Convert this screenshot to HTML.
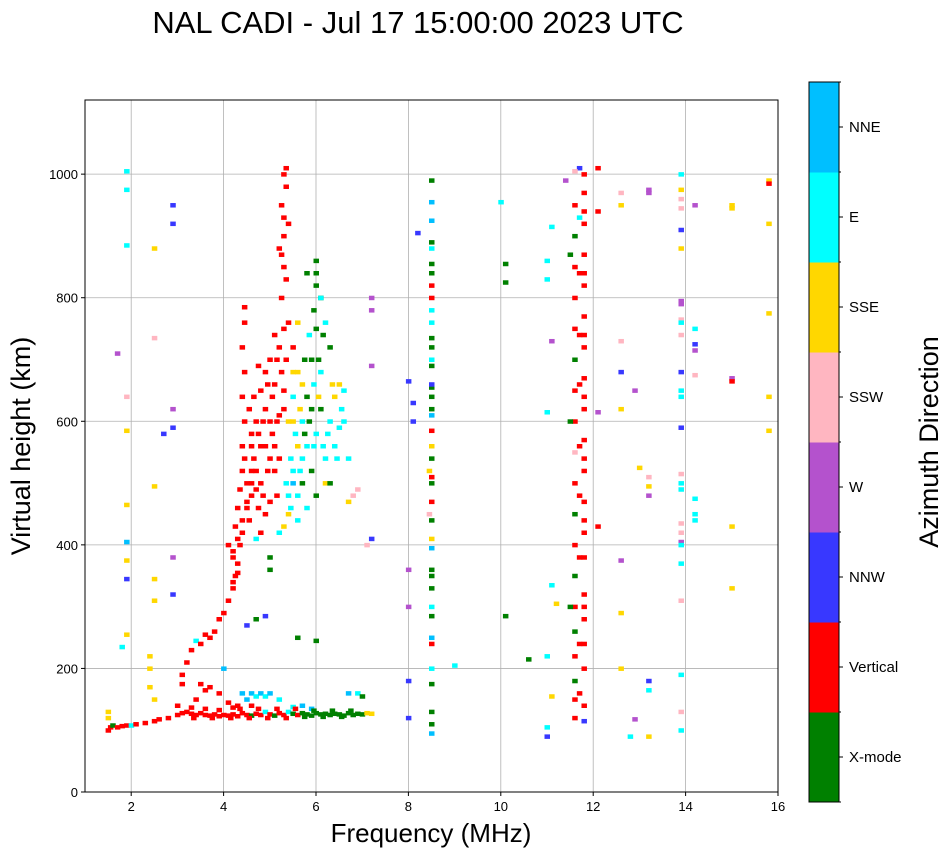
<!DOCTYPE html>
<html><head><meta charset="utf-8">
<style>
body{margin:0;background:#fff;}
svg{display:block;font-family:"Liberation Sans","DejaVu Sans",sans-serif;}
</style></head>
<body>
<svg id="chart" width="951" height="856">
<text x="418" y="33" text-anchor="middle" font-size="31">NAL CADI - Jul 17 15:00:00 2023 UTC</text>
<g id="grid"></g>
<g id="marks"></g>
<rect x="85" y="100" width="693" height="692" fill="none" stroke="#000" stroke-width="1"/>
<g id="axes"></g>
<text x="431" y="842" text-anchor="middle" font-size="26">Frequency (MHz)</text>
<text transform="translate(30,446) rotate(-90)" text-anchor="middle" font-size="27">Virtual height (km)</text>
<g id="cbar"></g>
<text transform="translate(938,442) rotate(-90)" text-anchor="middle" font-size="27">Azimuth Direction</text>
</svg>
<script>
const xTicks=[2,4,6,8,10,12,14,16];
const yTicks=[0,200,400,600,800,1000];
const dirLabels=["X-mode","Vertical","NNW","W","SSW","SSE","E","NNE"];
const dirColors=["#008000","#ff0000","#3838ff","#b452cd","#ffb6c1","#ffd700","#00ffff","#00bfff"];
const lowTrace=[[1.5,100,1],[1.55,105,1],[1.6,108,0],[1.7,105,1],[1.8,107,1],[1.9,108,1],[2.0,108,6],[2.1,110,1],[2.3,112,1],[2.5,115,1],[2.6,118,1],[2.8,120,1],[3.0,125,1],[3.1,128,1],[3.2,130,1],[3.3,127,1],[3.4,125,1],[3.5,128,1],[3.6,125,1],[3.7,124,1],[3.8,126,1],[3.9,123,1],[4.0,125,1],[4.1,124,1],[4.2,126,1],[4.3,123,1],[4.4,128,1],[4.5,125,1],[4.6,124,0],[4.7,127,1],[4.8,125,1],[4.9,130,6],[5.0,126,1],[5.1,124,0],[5.2,128,1],[5.3,125,1],[5.4,130,6],[5.5,127,0],[5.6,125,1],[5.7,128,0],[5.8,126,0],[5.9,124,0],[6.0,128,0],[6.1,126,0],[6.2,127,0],[6.3,125,0],[6.4,127,0],[6.5,126,0],[6.6,124,0],[6.7,128,0],[6.8,125,0],[6.9,127,0],[7.0,126,0],[7.1,128,5],[7.2,127,5],
[3.3,137,1],[3.6,135,1],[3.9,133,1],[4.2,137,1],[4.4,160,7],[4.5,150,7],[4.6,160,7],[4.7,155,6],[4.8,160,7],[4.9,155,6],[5.0,160,7],[5.2,150,6],[5.5,138,6],[5.7,140,7],[5.9,135,7],[6.7,160,7],[6.9,160,6],[7.0,155,0],[3.9,160,1],[3.7,170,1],[3.5,175,1],[4.0,200,7],[3.1,175,1],[2.5,150,5],[2.4,170,5],[2.4,200,5],[2.4,220,5],[1.5,130,5],[1.5,120,5],[3.0,140,1],[3.4,150,1],[3.6,165,1],[4.1,145,1],[4.3,140,1],[4.6,140,1],
[3.35,120,1],[3.75,120,1],[4.15,120,1],[4.55,120,1],[4.95,120,1],[5.35,120,1],[5.75,122,0],[6.15,122,0],[6.55,122,0],[4.35,135,1],[4.75,135,1],[5.15,135,1],[5.55,135,1],[5.95,132,0],[6.35,132,0],[6.75,132,0]];
const risingTrace=[[3.1,190,1],[3.2,210,1],[3.3,230,1],[3.4,245,6],[3.5,240,1],[3.6,255,1],[3.7,250,1],[3.8,260,1],[3.9,280,1],[4.0,290,1],[4.1,310,1],[4.2,330,1],[4.25,350,1],[4.3,370,1],[4.2,390,1],[4.3,410,1],[4.25,430,1],[4.3,460,1],[4.35,490,1],[4.4,520,1],[4.4,560,1],[4.45,600,1],[4.4,640,1],[4.45,680,1],[4.4,720,1],[4.45,760,1],[4.45,785,1],[4.1,400,1],[4.2,380,1],[4.4,440,1],[4.5,470,1],[4.6,480,1],[4.7,490,1],[4.6,520,1],[4.8,500,1],[4.9,450,1],[4.7,410,6],[4.8,420,1],[5.0,470,1],[5.1,520,1],[4.6,560,1],[4.7,600,1],[4.8,650,1],[4.9,620,1],[5.0,700,1],[5.1,560,1],[5.2,610,1],[5.3,650,1],[5.35,700,1],[5.3,750,1],[5.25,800,1],[5.3,850,1],[5.3,900,1],[5.25,950,1],[5.3,1000,1],[5.35,980,1],[5.4,920,1],[5.2,880,1],[5.4,760,1],[5.5,720,1],[5.1,740,1],[4.9,680,1],[5.2,540,1],[4.5,460,1],[4.6,580,1],[5.0,600,1],[4.8,560,1],[4.55,620,1],[4.65,540,1],[4.75,460,1],[4.95,520,1],[5.05,640,1],[5.15,480,1],
[4.2,340,1],[4.3,355,1],[4.35,400,1],[4.4,420,1],[4.45,540,1],[4.5,500,1],[4.55,440,1],[4.6,500,1],[4.7,520,1],[4.75,580,1],[4.85,600,1],[4.9,560,1],[5.0,540,1],[5.05,580,1],[5.1,660,1],[5.15,700,1],[5.2,720,1],[5.25,680,1],[5.3,620,1],[5.35,830,1],[5.25,870,1],[5.3,930,1],[5.35,1010,1],[4.85,480,1],[4.65,640,1],[4.95,660,1],[4.75,690,1],[5.15,600,1]];
const spread=[[5.2,420,6],[5.4,480,6],[5.5,520,6],[5.6,560,5],[5.7,600,6],[5.8,640,0],[5.9,700,0],[6.0,750,0],[6.1,800,0],[6.0,860,0],[5.6,680,5],[5.5,640,6],[5.7,660,5],[5.8,560,6],[5.9,520,0],[6.0,580,6],[6.1,620,0],[6.2,540,6],[6.3,600,6],[6.4,640,5],[6.5,660,5],[6.6,600,6],[6.4,560,6],[6.2,500,5],[6.0,480,0],[5.8,460,6],[5.6,440,6],[5.4,450,5],[5.3,430,5],[5.7,500,0],[5.9,620,0],[6.1,680,6],[6.3,720,0],[6.2,760,6],[6.8,480,4],[6.7,470,5],[6.9,490,4],[5.5,600,5],[5.6,760,5],[6.5,590,6],[6.6,650,6],[6.3,500,0],[5.0,380,0],[5.0,360,0],[4.7,280,0],[4.9,285,2],[4.5,270,2],[5.6,250,0],[6.0,245,0],[7.2,410,2],[7.1,400,4],[7.2,690,3],[7.2,800,3],[7.2,780,3],[5.8,840,0],[6.0,820,0],[6.1,800,6],[5.45,540,6],[5.65,520,6],[5.75,580,0],[5.95,560,6],[6.15,560,6],
[5.5,500,7],[5.6,480,6],[5.7,540,6],[5.85,600,0],[5.95,660,6],[6.05,700,0],[6.15,740,0],[5.55,580,6],[5.65,620,5],[5.75,700,0],[5.85,740,6],[6.05,640,5],[6.25,580,6],[6.35,660,5],[6.45,540,6],[5.45,460,6],[5.35,500,6],[5.95,780,0],[6.0,840,0],[5.4,600,5],[5.5,680,5],[6.7,540,6],[6.55,620,6]];
const col85=[[8.5,95,7],[8.5,110,0],[8.5,130,0],[8.5,175,0],[8.5,200,6],[8.5,240,1],[8.5,250,7],[8.5,285,0],[8.5,300,6],[8.5,330,0],[8.5,350,0],[8.5,360,0],[8.5,395,7],[8.5,410,5],[8.5,440,0],[8.5,470,1],[8.5,500,0],[8.5,510,1],[8.5,540,0],[8.5,560,5],[8.5,585,1],[8.5,610,7],[8.5,620,0],[8.5,640,0],[8.5,655,0],[8.5,660,2],[8.5,690,0],[8.5,700,6],[8.5,720,0],[8.5,735,0],[8.5,760,6],[8.5,780,6],[8.5,800,1],[8.5,820,1],[8.5,840,0],[8.5,855,0],[8.5,880,6],[8.5,890,0],[8.5,925,7],[8.5,955,7],[8.5,990,0],[8.45,520,5],[8.45,450,4],[8.0,120,2],[8.0,180,2],[8.0,300,3],[8.0,360,3],[8.1,630,2],[8.1,600,2],[8.2,905,2],[8.0,665,2]];
const col117=[[11.6,120,1],[11.8,115,2],[11.6,150,1],[11.8,140,1],[11.6,180,0],[11.8,200,1],[11.6,220,1],[11.8,240,1],[11.6,260,0],[11.8,280,1],[11.6,300,1],[11.8,320,1],[11.6,350,0],[11.8,380,1],[11.6,400,1],[11.8,420,1],[11.6,450,0],[11.8,470,1],[11.6,500,1],[11.8,520,1],[11.6,550,4],[11.8,570,1],[11.6,600,1],[11.8,620,1],[11.6,650,1],[11.8,670,1],[11.6,700,0],[11.8,720,1],[11.6,750,1],[11.8,770,1],[11.6,800,1],[11.8,820,1],[11.6,850,1],[11.8,870,1],[11.6,900,0],[11.8,920,1],[11.6,950,1],[11.8,970,1],[11.8,1000,1],[11.7,1010,2],[11.6,1005,4],[11.5,870,0],[11.5,600,0],[11.5,300,0],[11.7,380,1],[11.7,660,1],[11.7,840,1],[11.7,930,6],[11.7,480,1],[11.7,160,1],[11.7,240,1],[11.7,560,1],[11.7,740,1],[11.8,300,1],[11.8,440,1],[11.8,540,1],[11.8,640,1],[11.8,740,1],[11.8,840,1],[11.8,940,1]];
const scattered=[[1.9,1005,6],[1.9,975,6],[1.9,885,6],[1.7,710,3],[1.9,640,4],[1.9,585,5],[1.9,465,5],[1.9,405,7],[1.9,375,5],[1.9,345,2],[1.9,255,5],[1.8,235,6],[2.5,880,5],[2.5,735,4],[2.5,495,5],[2.5,345,5],[2.5,310,5],[2.9,950,2],[2.9,920,2],[2.9,620,3],[2.9,590,2],[2.9,380,3],[2.9,320,2],[2.7,580,2],[10.0,955,6],[10.1,855,0],[10.1,825,0],[10.1,285,0],[9.0,205,6],[10.6,215,0],[11.0,830,6],[11.0,860,6],[11.1,915,6],[11.1,730,3],[11.0,615,6],[11.1,335,6],[11.2,305,5],[11.1,155,5],[11.0,220,6],[11.0,105,6],[11.0,90,2],[11.4,990,3],[12.1,1010,1],[12.1,940,1],[12.1,615,3],[12.1,430,1],[12.6,970,4],[12.6,950,5],[12.6,730,4],[12.6,680,2],[12.6,620,5],[12.6,375,3],[12.6,290,5],[12.6,200,5],[12.8,90,6],[13.2,970,3],[13.2,975,3],[12.9,650,3],[13.0,525,5],[13.2,510,4],[13.2,495,5],[13.2,480,3],[12.9,118,3],[13.2,180,2],[13.2,165,6],[13.2,90,5],[13.9,1000,6],[13.9,975,5],[13.9,960,4],[13.9,945,4],[13.9,910,2],[13.9,880,5],[13.9,795,3],[13.9,790,3],[13.9,765,4],[13.9,760,6],[13.9,740,4],[14.2,750,6],[14.2,725,2],[14.2,715,3],[13.9,680,2],[14.2,675,4],[13.9,650,6],[13.9,640,6],[13.9,590,2],[13.9,515,4],[13.9,500,6],[13.9,490,6],[14.2,475,6],[14.2,450,6],[14.2,440,6],[13.9,435,4],[13.9,420,4],[13.9,405,3],[13.9,400,6],[13.9,370,6],[13.9,310,4],[13.9,190,6],[13.9,130,4],[13.9,100,6],[14.2,950,3],[15.0,950,5],[15.0,945,5],[15.0,670,3],[15.0,665,1],[15.0,430,5],[15.0,330,5],[15.8,990,5],[15.8,985,1],[15.8,920,5],[15.8,775,5],[15.8,640,5],[15.8,585,5]];

const X0=85,X1=778,Y0=792,Y1=100,FMIN=1,FMAX=16,HMIN=0,HMAX=1120;
function xs(f){return X0+(f-FMIN)/(FMAX-FMIN)*(X1-X0);}
function ys(h){return Y0-(h-HMIN)/(HMAX-HMIN)*(Y0-Y1);}
const NS="http://www.w3.org/2000/svg";
function mk(tag,attrs,parent){const e=document.createElementNS(NS,tag);for(const k in attrs)e.setAttribute(k,attrs[k]);parent.appendChild(e);return e;}
const grid=document.getElementById('grid'),axes=document.getElementById('axes'),marks=document.getElementById('marks'),cbar=document.getElementById('cbar');
xTicks.forEach(t=>{
 const x=xs(t);
 const l=mk('line',{x1:x,x2:x,y1:Y1,y2:Y0,stroke:'#b0b0b0','stroke-width':0.8},grid);
 
 
 mk('line',{x1:x,x2:x,y1:Y0,y2:Y0+4,stroke:'#000'},axes);
 const tx=mk('text',{x:x,y:Y0+19,'text-anchor':'middle','font-size':13},axes);tx.textContent=t;
 
 
});
yTicks.forEach(t=>{
 const y=ys(t);
 const l=mk('line',{x1:X0,x2:X1,y1:y,y2:y,stroke:'#b0b0b0','stroke-width':0.8},grid);
 
 
 mk('line',{x1:X0-4,x2:X0,y1:y,y2:y,stroke:'#000'},axes);
 const tx=mk('text',{x:X0-7,y:y+5,'text-anchor':'end','font-size':13},axes);tx.textContent=t;
 
 
});
[lowTrace,risingTrace,spread,col85,col117,scattered].forEach(arr=>arr.forEach(p=>{
 const r=mk('rect',{x:xs(p[0])-2.5,y:ys(p[1])-2,width:5.5,height:4.5,fill:dirColors[p[2]]},marks);
 
 
}));
const CX=809,CW=30,CT=82,CB=802,seg=(CB-CT)/dirLabels.length;
dirLabels.forEach((lab,i)=>{
 const y=CB-(i+1)*seg;
 const r=mk('rect',{x:CX,y:y,width:CW,height:seg+0.5,fill:dirColors[i]},cbar);
 
 
 mk('line',{x1:CX+CW,x2:CX+CW+4,y1:y+seg/2,y2:y+seg/2,stroke:'#000'},cbar);
 const t=mk('text',{x:CX+CW+10,y:y+seg/2+5,'font-size':15},cbar);t.textContent=lab;
 
 
});
for(let i=0;i<=dirLabels.length;i++){mk('line',{x1:CX+CW,x2:CX+CW+2,y1:CT+i*seg,y2:CT+i*seg,stroke:'#000'},cbar);}
mk('rect',{x:CX,y:CT,width:CW,height:CB-CT,fill:'none',stroke:'#000'},cbar);
</script>
</body></html>
